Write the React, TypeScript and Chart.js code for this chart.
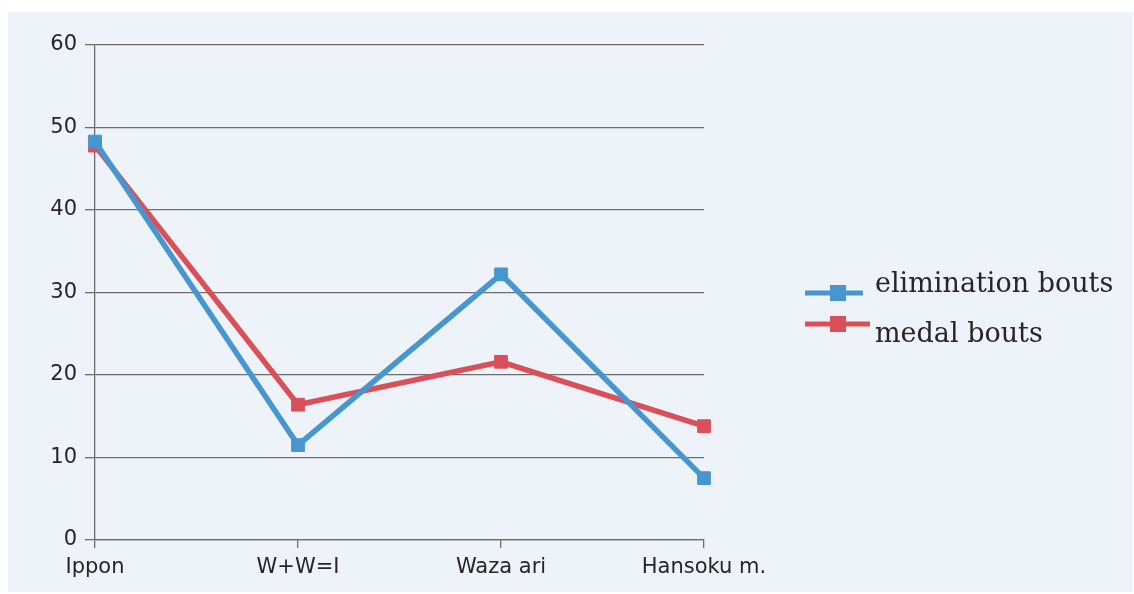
import React, { useEffect, useRef } from "react";
import { Chart, registerables } from "chart.js";

Chart.register(...registerables);

const categories = ["Ippon", "W+W=I", "Waza ari", "Hansoku m."];
const eliminationBouts = [48.3, 11.5, 32.2, 7.5];
const medalBouts = [47.8, 16.4, 21.6, 13.8];
const seriesNames = ["elimination bouts", "medal bouts"];
const yTicks = [0, 10, 20, 30, 40, 50, 60];

const BLUE = "rgb(72,150,208)";
const RED = "rgb(218,80,90)";
const GRID = "rgb(110,110,110)";
const TEXT = "rgb(38,38,42)";

const backgroundPlugin = {
  id: "scanBackground",
  beforeDraw(chart: any) {
    const { ctx, width, height } = chart;
    ctx.save();
    ctx.fillStyle = "#ffffff";
    ctx.fillRect(0, 0, width, height);
    ctx.fillStyle = "rgb(237,243,249)";
    ctx.fillRect(8, 12, width - 9, height - 14);
    ctx.restore();
  },
};

const legendPlugin = {
  id: "sideLegend",
  afterDraw(chart: any) {
    const { ctx } = chart;
    const items = [
      { lineY: 293, textY: 285, x0: 805, x1: 863 },
      { lineY: 324, textY: 335, x0: 805, x1: 870 },
    ];
    ctx.save();
    chart.data.datasets.forEach((ds: any, i: number) => {
      const it = items[i];
      ctx.strokeStyle = ds.borderColor;
      ctx.lineWidth = 5;
      ctx.beginPath();
      ctx.moveTo(it.x0, it.lineY);
      ctx.lineTo(it.x1, it.lineY);
      ctx.stroke();
      ctx.fillStyle = ds.borderColor;
      ctx.fillRect(838 - 8, it.lineY - 8, 16, 16);
      ctx.fillStyle = TEXT;
      ctx.font = "27px 'DejaVu Serif'";
      ctx.textAlign = "left";
      ctx.textBaseline = "middle";
      ctx.fillText(ds.label, 875, it.textY);
    });
    ctx.restore();
  },
};

export default function App() {
  const ref = useRef<HTMLCanvasElement | null>(null);

  useEffect(() => {
    if (!ref.current) return;
    const chart = new Chart(ref.current, {
      type: "line",
      data: {
        labels: categories,
        datasets: [
          {
            label: seriesNames[0],
            data: eliminationBouts,
            borderColor: BLUE,
            backgroundColor: BLUE,
            borderWidth: 5.5,
            pointStyle: "rect",
            pointRadius: 9,
            pointBorderWidth: 1,
            tension: 0,
          },
          {
            label: seriesNames[1],
            data: medalBouts,
            borderColor: RED,
            backgroundColor: RED,
            borderWidth: 5.5,
            pointStyle: "rect",
            pointRadius: 9,
            pointBorderWidth: 1,
            tension: 0,
          },
        ],
      },
      options: {
        animation: false,
        responsive: true,
        maintainAspectRatio: false,
        layout: { padding: { left: 0, top: 45, right: 430, bottom: 0 } },
        plugins: {
          legend: { display: false },
          tooltip: { enabled: false },
        },
        scales: {
          x: {
            type: "category",
            offset: false,
            afterFit(scale: any) {
              scale.height = 54;
            },
            grid: {
              drawOnChartArea: false,
              drawTicks: true,
              tickLength: 8,
              color: GRID,
              lineWidth: 1.3,
            },
            border: { display: true, color: GRID, width: 1.3 },
            ticks: {
              color: TEXT,
              font: { family: "'DejaVu Sans'", size: 21 },
              padding: 7,
              maxRotation: 0,
            },
          },
          y: {
            min: yTicks[0],
            max: yTicks[yTicks.length - 1],
            afterFit(scale: any) {
              scale.width = 95;
            },
            afterBuildTicks(scale: any) {
              scale.ticks = yTicks.map((v) => ({ value: v }));
            },
            grid: {
              color: GRID,
              lineWidth: 1.3,
              tickLength: 10,
            },
            border: { display: true, color: GRID, width: 1.3 },
            ticks: {
              color: TEXT,
              font: { family: "'DejaVu Sans'", size: 21 },
              padding: 8,
            },
          },
        },
      },
      plugins: [backgroundPlugin, legendPlugin],
    });
    return () => chart.destroy();
  }, []);

  return (
    <div style={{ position: "fixed", left: 0, top: 0, width: 1134, height: 594 }}>
      <canvas ref={ref} />
    </div>
  );
}
